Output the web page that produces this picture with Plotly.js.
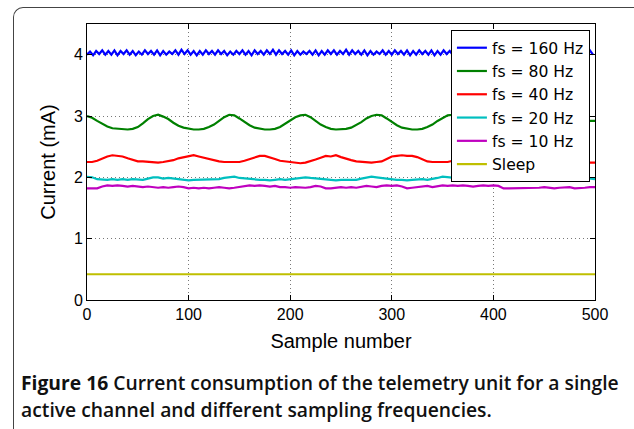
<!DOCTYPE html>
<html>
<head>
<meta charset="utf-8">
<script src="https://cdn.plot.ly/plotly-3.0.1.min.js"></script>
<style>
html,body{margin:0;padding:0;background:#fff;}
#wrap{position:relative;width:634px;height:429px;overflow:hidden;}
#frame{position:absolute;left:13px;top:7px;width:700px;height:600px;border-left:1px solid #444;border-top:1px solid #444;border-top-left-radius:10px;pointer-events:none;}
#chart{position:absolute;left:0;top:0;width:634px;height:429px;}
</style>
</head>
<body>
<div id="wrap"><div id="chart"></div><div id="frame"></div></div>
<script>
// Sample-number spacing of the read points
const stepBlue = 3;
const stepOther = 5;

const seriesNames = ["fs = 160 Hz", "fs = 80 Hz", "fs = 40 Hz", "fs = 20 Hz", "fs = 10 Hz", "Sleep"];

const fs160 = [
4.00,4.05,3.99,4.06,4.01,4.07,4.00,4.06,4.00,4.07,3.99,4.06,4.01,4.07,4.00,4.06,3.99,4.05,4.00,4.07,
4.01,4.06,4.00,4.07,3.99,4.06,4.00,4.05,4.01,4.07,4.00,4.08,4.01,4.07,4.00,4.06,3.99,4.06,4.00,4.07,
4.01,4.06,4.00,4.07,4.01,4.06,3.99,4.05,4.00,4.06,4.01,4.07,4.00,4.06,3.99,4.07,4.01,4.06,4.00,4.07,
4.01,4.08,4.00,4.07,4.01,4.06,4.00,4.07,3.99,4.06,4.00,4.05,4.01,4.06,4.00,4.07,3.99,4.06,4.00,4.07,
4.01,4.07,4.00,4.06,4.01,4.08,4.00,4.07,4.01,4.06,4.00,4.07,3.99,4.06,4.00,4.05,4.01,4.07,4.00,4.06,
4.00,4.07,4.01,4.06,4.00,4.07,3.99,4.06,4.00,4.07,4.01,4.06,4.00,4.07,3.99,4.06,4.00,4.07,4.01,4.06,
4.00,4.07,4.01,4.06,4.00,4.07,3.99,4.06,4.00,4.07,4.01,4.06,4.00,4.07,3.99,4.06,4.00,4.07,4.01,4.06,
4.00,4.07,4.01,4.06,4.00,4.07,4.00,4.06,4.01,4.07,4.00,4.06,3.99,4.07,4.00,4.06,4.01,4.07,4.00,4.06,
4.00,4.07,4.01,4.06,4.00,4.07,4.00
];

const fs80 = [
3.00,2.97,2.92,2.87,2.83,2.80,2.79,2.78,2.78,2.79,2.82,2.88,2.95,3.00,3.02,2.99,2.95,2.89,2.84,2.81,
2.79,2.78,2.78,2.79,2.82,2.86,2.92,2.98,3.02,3.01,2.96,2.90,2.85,2.81,2.79,2.78,2.78,2.79,2.82,2.87,
2.93,2.98,3.01,3.02,2.98,2.92,2.86,2.82,2.79,2.78,2.78,2.79,2.81,2.85,2.90,2.96,3.00,3.02,3.01,2.96,
2.90,2.85,2.81,2.79,2.78,2.78,2.79,2.82,2.86,2.92,2.97,3.01,3.02,2.99,2.94,2.88,2.83,2.80,2.78,2.78,
2.79,2.81,2.85,2.90,2.96,3.00,3.02,3.00,2.95,2.89,2.84,2.81,2.79,2.78,2.78,2.79,2.81,2.84,2.88,2.92,
2.92
];

const fs40 = [
2.25,2.25,2.27,2.31,2.34,2.36,2.35,2.34,2.31,2.28,2.26,2.26,2.25,2.25,2.24,2.25,2.26,2.28,2.31,2.33,
2.35,2.36,2.34,2.32,2.29,2.27,2.26,2.25,2.25,2.24,2.25,2.27,2.30,2.33,2.35,2.35,2.33,2.30,2.27,2.26,
2.24,2.24,2.23,2.24,2.26,2.29,2.32,2.35,2.34,2.36,2.33,2.30,2.28,2.26,2.25,2.25,2.24,2.25,2.26,2.30,
2.34,2.35,2.36,2.35,2.35,2.33,2.29,2.26,2.25,2.25,2.24,2.25,2.27,2.30,2.33,2.35,2.35,2.33,2.30,2.27,
2.25,2.24,2.24,2.25,2.26,2.28,2.31,2.34,2.35,2.35,2.33,2.30,2.27,2.25,2.24,2.24,2.24,2.25,2.25,2.25,
2.24
];

const fs20 = [
2.01,2.00,1.97,1.96,1.96,1.97,1.96,1.97,1.96,1.97,1.97,1.96,1.98,2.00,2.00,1.98,1.99,1.98,1.96,1.96,
1.95,1.96,1.96,1.97,1.96,1.96,1.97,1.99,2.00,2.01,1.99,1.98,1.98,1.97,1.96,1.96,1.95,1.96,1.97,1.96,
1.97,1.98,2.00,2.00,1.99,1.98,1.97,1.96,1.96,1.95,1.96,1.96,1.97,1.96,1.98,1.99,2.01,2.00,1.99,1.98,
1.96,1.96,1.96,1.95,1.96,1.97,1.97,1.96,1.97,1.99,2.01,2.00,1.99,1.98,1.97,1.96,1.96,1.95,1.96,1.96,
1.97,1.97,1.98,2.00,2.01,1.99,1.98,1.97,1.96,1.96,1.96,1.95,1.96,1.96,1.97,1.97,1.99,2.00,1.99,1.98,
1.97
];

const fs10 = [
1.82,1.82,1.82,1.85,1.87,1.86,1.87,1.86,1.85,1.86,1.85,1.84,1.85,1.84,1.83,1.84,1.83,1.84,1.85,1.84,
1.82,1.83,1.82,1.83,1.82,1.83,1.84,1.83,1.82,1.83,1.84,1.86,1.87,1.86,1.87,1.86,1.85,1.86,1.84,1.84,
1.83,1.84,1.83,1.83,1.84,1.86,1.85,1.82,1.82,1.83,1.84,1.83,1.84,1.83,1.84,1.86,1.85,1.84,1.86,1.87,
1.86,1.87,1.85,1.82,1.83,1.84,1.85,1.86,1.84,1.86,1.87,1.86,1.87,1.86,1.87,1.86,1.85,1.86,1.87,1.86,
1.87,1.86,1.82,1.82,1.82,1.83,1.82,1.83,1.82,1.83,1.84,1.83,1.82,1.83,1.83,1.84,1.82,1.82,1.83,1.84,
1.84
];

const sleepX = [0, 500];
const sleep = [0.42, 0.42];

const colors = ["#0000ff", "#008000", "#ff0000", "#00bfbf", "#bf00bf", "#bfbf00"];

const xTicks = [0, 100, 200, 300, 400, 500];
const yTicks = [0, 1, 2, 3, 4];

function idx(arr, step) { return arr.map((_, i) => i * step); }

const ys = [fs160, fs80, fs40, fs20, fs10, sleep];
const xs = [idx(fs160, stepBlue), idx(fs80, stepOther), idx(fs40, stepOther), idx(fs20, stepOther), idx(fs10, stepOther), sleepX];

const traces = ys.map((y, k) => ({
  x: xs[k], y: y, type: "scatter", mode: "lines", name: seriesNames[k],
  line: {color: colors[k], width: 2.2}
}));

const F = "Liberation Sans, Arial, sans-serif";
const layout = {
  width: 634, height: 429,
  margin: {l: 87, r: 39, t: 24, b: 129},
  paper_bgcolor: "#fff", plot_bgcolor: "#fff",
  showlegend: true,
  font: {family: F, color: "#000", size: 16},
  xaxis: {
    range: [0, 500], tickvals: xTicks, ticktext: xTicks.map(String),
    showline: true, linecolor: "#000", linewidth: 1, mirror: "ticks",
    ticks: "inside", ticklen: 5, tickcolor: "#000",
    showgrid: true, gridcolor: "#777", griddash: "1px,3px", gridwidth: 1, zeroline: false,
    tickfont: {family: F, size: 16},
    title: {text: "Sample number", font: {family: F, size: 20}, standoff: 11}
  },
  yaxis: {
    range: [0, 4.5], tickvals: yTicks, ticktext: yTicks.map(String),
    showline: true, linecolor: "#000", linewidth: 1, mirror: "ticks",
    ticks: "inside", ticklen: 5, tickcolor: "#000",
    showgrid: true, gridcolor: "#777", griddash: "1px,3px", gridwidth: 1, zeroline: false,
    tickfont: {family: F, size: 16},
    title: {text: "Current (mA)", font: {family: F, size: 20}, standoff: 12}
  },
  legend: {
    x: 0.990, y: 0.978, xanchor: "right", yanchor: "top",
    bgcolor: "#fff", bordercolor: "#000", borderwidth: 1,
    font: {family: "DejaVu Sans, sans-serif", size: 15.6}, tracegroupgap: 0, itemwidth: 30
  },
  annotations: [
    {xref: "paper", yref: "paper", x: -0.134, y: -0.300, xanchor: "left", yanchor: "middle", showarrow: false,
     text: "<b>Figure 16</b> Current consumption of the telemetry unit for a single",
     font: {family: "Open Sans, sans-serif", size: 19.3, weight: 600, color: "#111"}},
    {xref: "paper", yref: "paper", x: -0.134, y: -0.398, xanchor: "left", yanchor: "middle", showarrow: false,
     text: "active channel and different sampling frequencies.",
     font: {family: "Open Sans, sans-serif", size: 19.3, weight: 600, color: "#111"}}
  ]
};

Plotly.newPlot("chart", traces, layout, {displayModeBar: false, staticPlot: true});
</script>
</body>
</html>
